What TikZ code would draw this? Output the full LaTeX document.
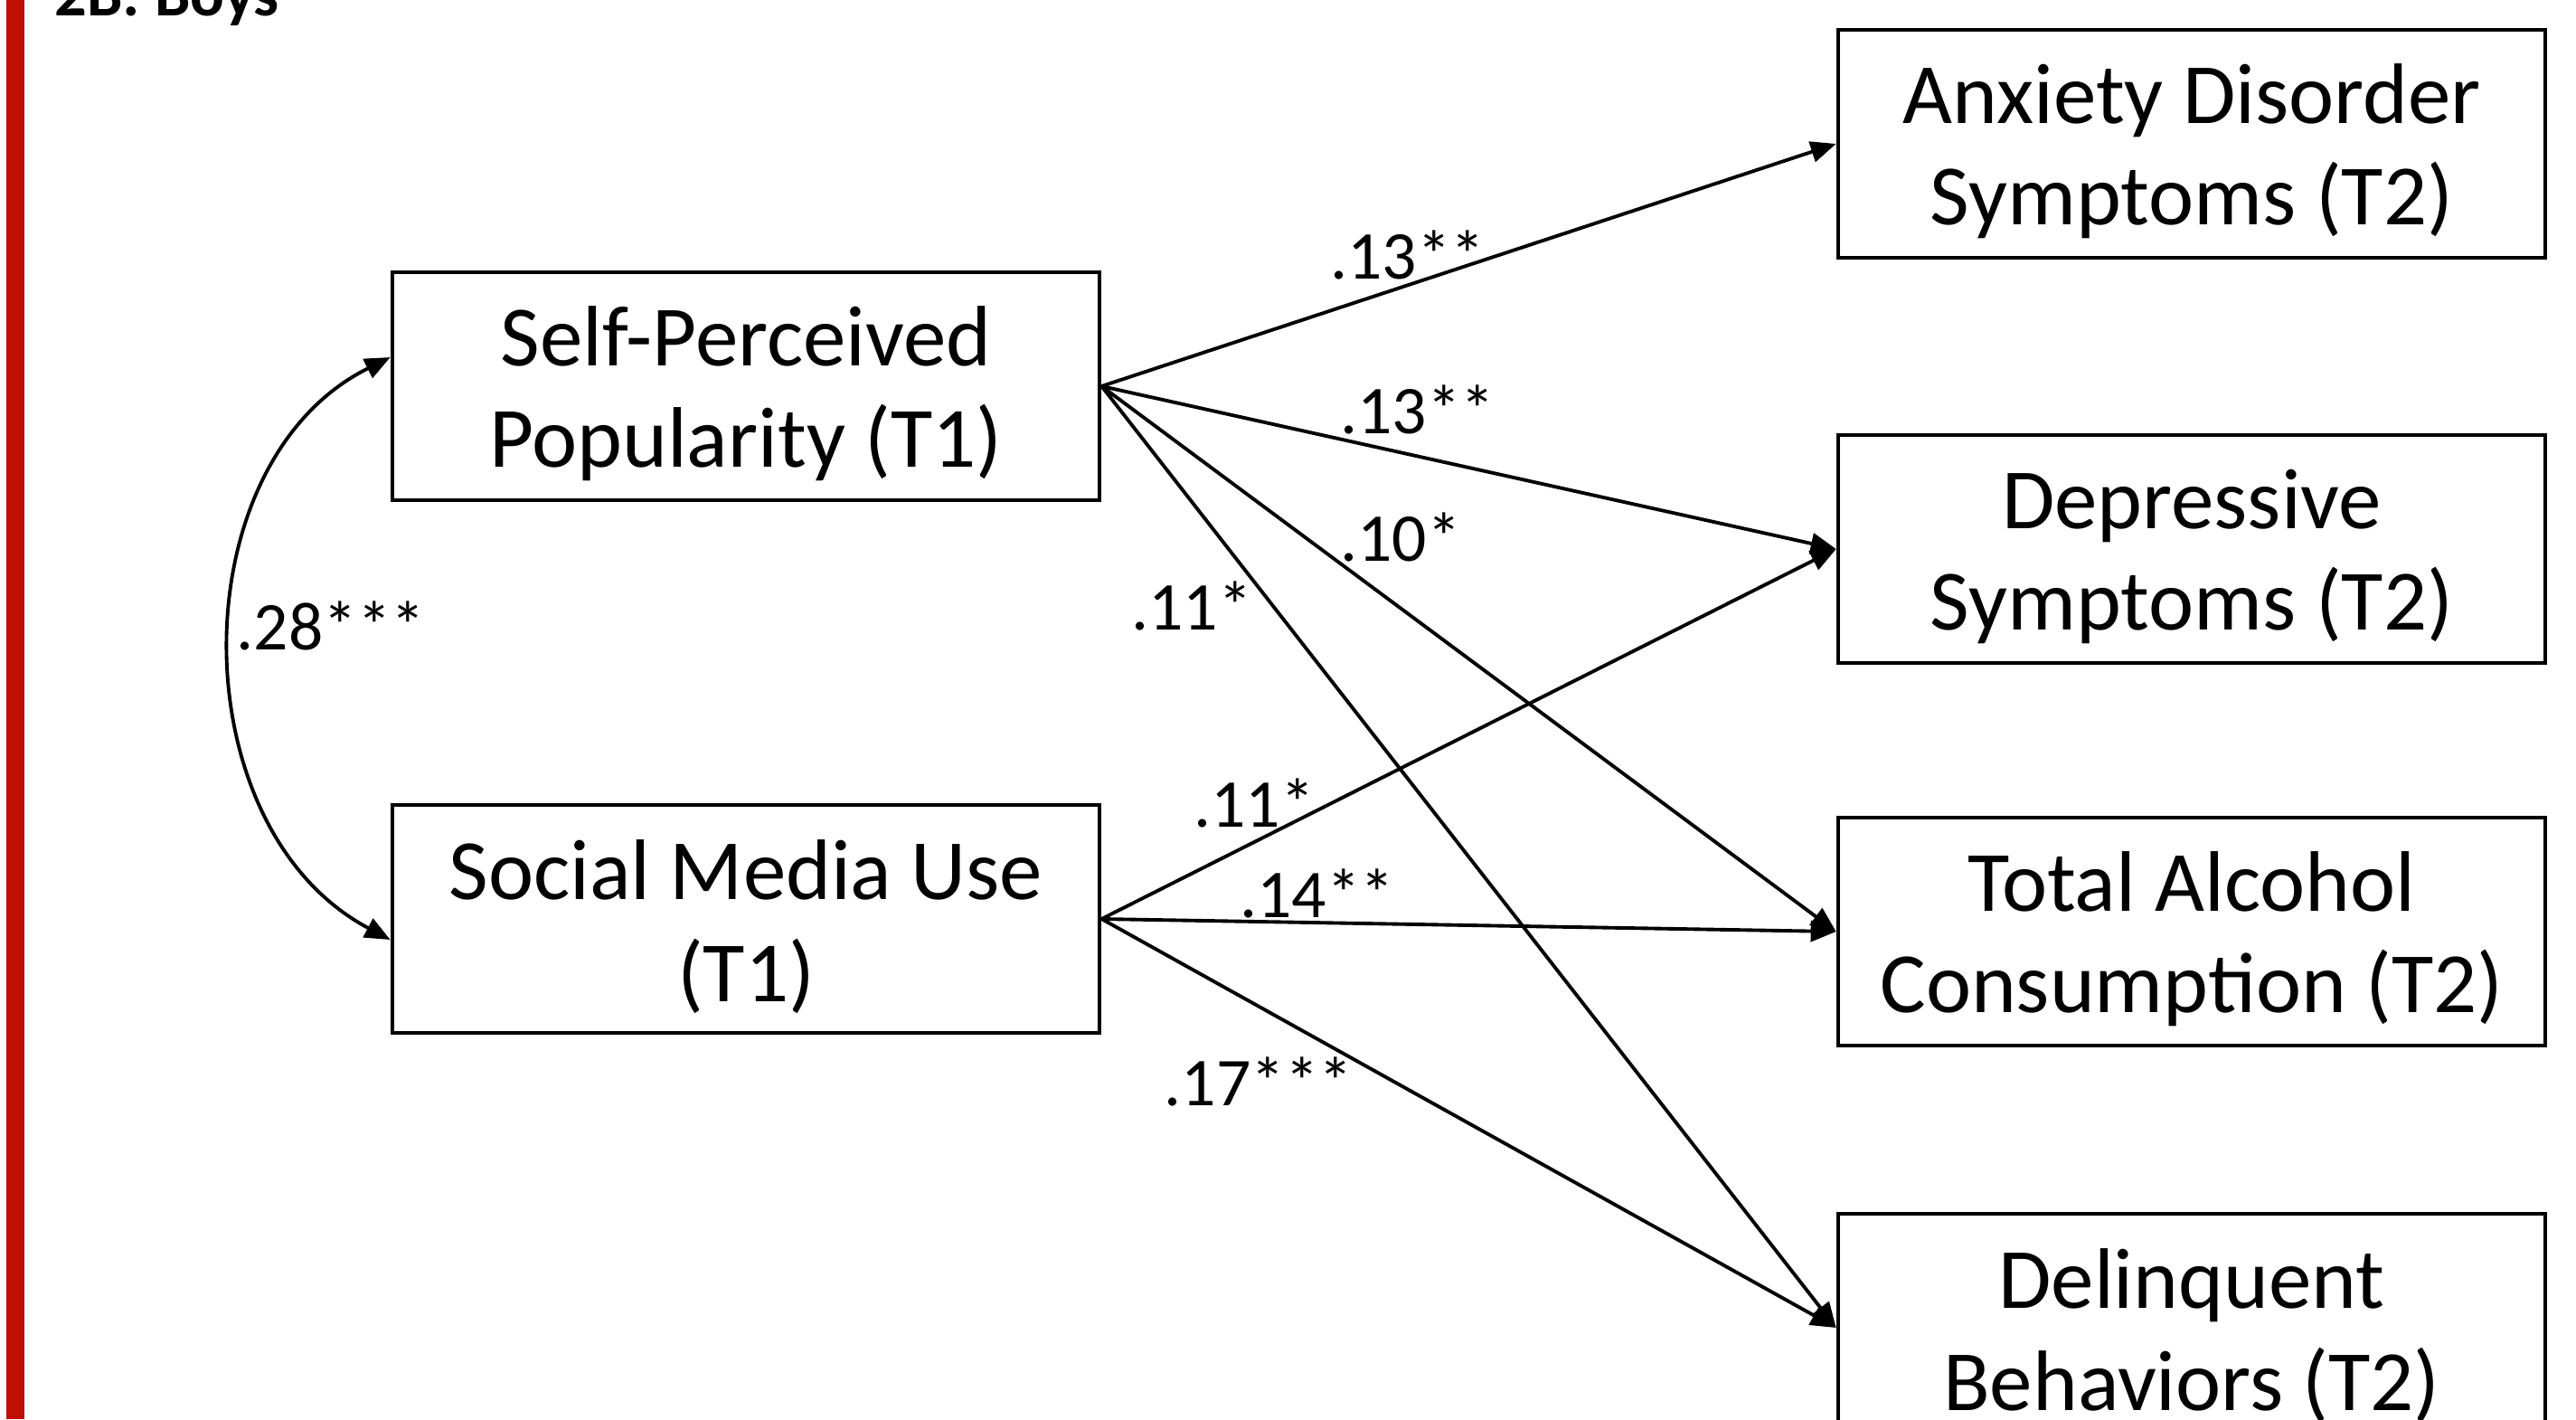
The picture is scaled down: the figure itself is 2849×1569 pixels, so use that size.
\documentclass[tikz,border=0pt]{standalone}
\usepackage{fontspec}
\setmainfont{Carlito}
\usetikzlibrary{arrows.meta,calc}
\definecolor{barred}{RGB}{192,14,0}
\newcommand\boxstrut{\rule{0pt}{23.5pt}}

\begin{document}
\begin{tikzpicture}[x=0.01cm,y=-0.01cm,
		var/.style={draw,line width=1.2pt,minimum width=7.82cm,minimum height=2.52cm,align=center,inner sep=0pt,font=\fontsize{27}{32}\selectfont},
		coef/.style={inner sep=0pt,font=\fontsize{21.5}{24}\selectfont},
		effect/.style={line width=1.1pt,-{Triangle[length=0.28cm,width=0.23cm]}}]
	\clip (0,0) rectangle (2849,1569);
	\fill[barred] (7,0) rectangle (27,1569);
	\node[anchor=base west,inner sep=0pt,font=\bfseries\fontsize{20}{24}\selectfont] (title) at (60,17) {2B: Boys};
	% predictors
	\node[var] (spp) at (825,427) {\boxstrut Self-Perceived\\Popularity (T1)};
	\node[var] (smu) at (825,1016) {\boxstrut Social Media Use\\(T1)};
	% outcomes
	\node[var] (anx) at (2424,159) {\boxstrut Anxiety Disorder\\Symptoms (T2)};
	\node[var] (dep) at (2424,607) {\boxstrut Depressive\\Symptoms (T2)};
	\node[var] (alc) at (2424,1030) {\boxstrut Total Alcohol\\Consumption (T2)};
	\node[var] (del) at (2424,1468) {\boxstrut Delinquent\\Behaviors (T2)};
	% paths
	\draw[effect] (spp.east) -- (anx.west);
	\draw[effect] (spp.east) -- (dep.west);
	\draw[effect] (spp.east) -- (alc.west);
	\draw[effect] (spp.east) -- (del.west);
	\draw[effect] (smu.east) -- (dep.west);
	\draw[effect] (smu.east) -- (alc.west);
	\draw[effect] (smu.east) -- (del.west);
	\draw[line width=1.1pt,{Triangle[length=0.28cm,width=0.23cm]}-{Triangle[length=0.28cm,width=0.23cm]}]
		($(spp.west)+(0,-32)$) .. controls (198,511) and (198,915) .. ($(smu.west)+(0,23)$);
	% coefficients
	\node[coef] (c1) at (1557,282) {.13**};
	\node[coef] (c2) at (1568,453) {.13**};
	\node[coef] (c3) at (1549,594) {.10*};
	\node[coef] (c4) at (1318,670) {.11*};
	\node[coef] (c5) at (1387,888) {.11*};
	\node[coef] (c6) at (1457,988) {.14**};
	\node[coef] (c7) at (1392,1196) {.17***};
	\node[coef] (c8) at (366,692) {.28***};
\end{tikzpicture}
\end{document}
